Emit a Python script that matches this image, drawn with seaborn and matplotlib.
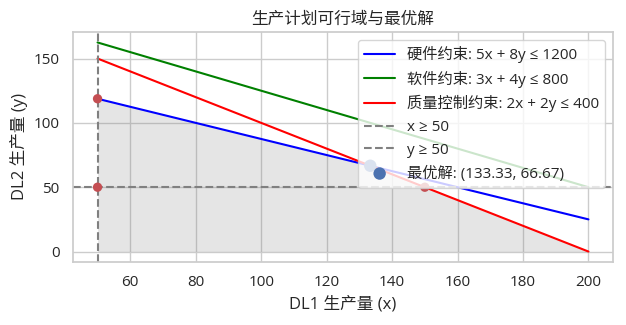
import matplotlib
matplotlib.use("Agg")
import matplotlib.pyplot as plt
import seaborn as sns
import pandas as pd

# Data
x_ends = [50, 200]
hw_y = [118.75, 25]      # 5x + 8y = 1200
sw_y = [162.5, 50]       # 3x + 4y = 800
qc_y = [150, 0]          # 2x + 2y = 400
fill_x = [50, 133.33, 200]
fill_top = [118.75, 66.67, 0]
vertex_x = [50, 50, 150]
vertex_y = [118.75, 50, 50]
opt_x = [133.33]
opt_y = [66.67]
x_min_bound = 50
y_min_bound = 50

labels = ["硬件约束: 5x + 8y ≤ 1200", "软件约束: 3x + 4y ≤ 800",
          "质量控制约束: 2x + 2y ≤ 400", "x ≥ 50", "y ≥ 50",
          "最优解: (133.33, 66.67)"]

sns.set_theme(style="whitegrid")
plt.rcParams['font.family'] = ['Open Sans', 'DejaVu Sans', 'Noto Sans CJK SC']
plt.rcParams['axes.unicode_minus'] = False

fig, ax = plt.subplots(figsize=(6.26, 3.25), dpi=100)

sns.lineplot(x=x_ends, y=hw_y, color="blue", label=labels[0], ax=ax)
sns.lineplot(x=x_ends, y=sw_y, color="green", label=labels[1], ax=ax)
sns.lineplot(x=x_ends, y=qc_y, color="red", label=labels[2], ax=ax)
ax.axvline(x_min_bound, color="gray", linestyle="--", label=labels[3])
ax.axhline(y_min_bound, color="gray", linestyle="--", label=labels[4])
ax.fill_between(fill_x, 0, fill_top, color="gray", alpha=0.2, linewidth=0)
sns.scatterplot(x=vertex_x, y=vertex_y, color="#c44e52", s=45, ax=ax, zorder=5, edgecolor="none")
sns.scatterplot(x=opt_x, y=opt_y, color="#4c72b0", s=80, ax=ax, zorder=5,
                edgecolor="none", label=labels[5])

ax.set_xlabel("DL1 生产量 (x)")
ax.set_ylabel("DL2 生产量 (y)")
ax.set_title("生产计划可行域与最优解")
ax.legend(loc="upper right")
fig.subplots_adjust(left=73/626, right=613/626, top=1-32/325, bottom=1-262/325)
fig.savefig("out.png", dpi=100)
